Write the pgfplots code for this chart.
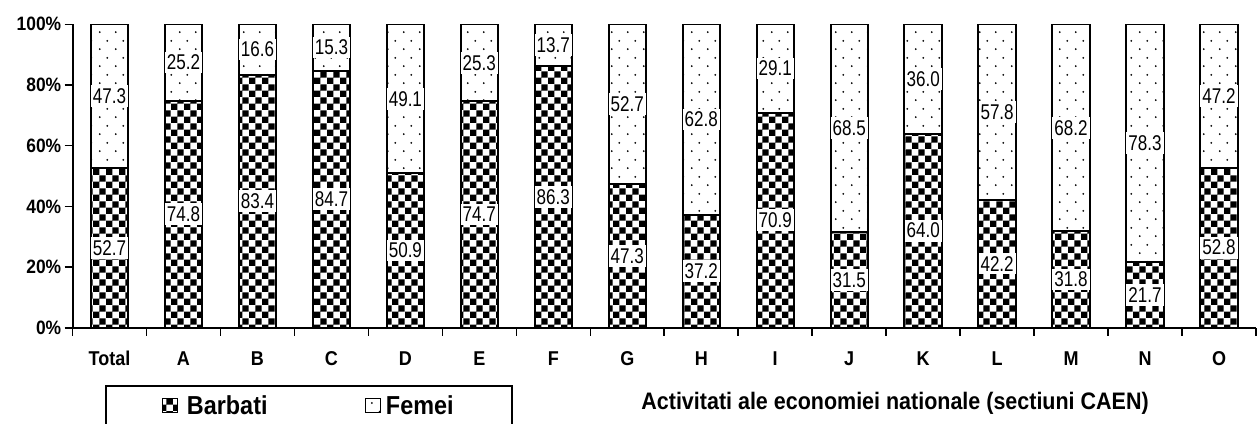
\documentclass[border=0pt]{standalone}
\usepackage{pgfplots}
\pgfplotsset{compat=1.18}
\usepackage{pgfplotstable}
\usepackage{fontspec}
\setmainfont{Liberation Sans}[FakeStretch=0.9]
\newfontfamily\narrowfont{Liberation Sans}[FakeStretch=0.8]
\usetikzlibrary{patterns}

\pgfdeclarepatternformonly{mychecker}{\pgfqpoint{0pt}{0pt}}{\pgfqpoint{10pt}{10pt}}{\pgfqpoint{10pt}{10pt}}{%
  \pgfpathrectangle{\pgfqpoint{0pt}{0pt}}{\pgfqpoint{5pt}{5pt}}%
  \pgfpathrectangle{\pgfqpoint{5pt}{5pt}}{\pgfqpoint{5pt}{5pt}}%
  \pgfusepath{fill}}
\pgfdeclarepatternformonly{mydots}{\pgfqpoint{0pt}{0pt}}{\pgfqpoint{12pt}{12.5pt}}{\pgfqpoint{12pt}{12.5pt}}{%
  \pgfpathcircle{\pgfqpoint{3pt}{3pt}}{0.8pt}%
  \pgfpathcircle{\pgfqpoint{9pt}{9.25pt}}{0.8pt}%
  \pgfusepath{fill}}

\pgfplotstableread{
x b f
0 52.7 47.3
1 74.8 25.2
2 83.4 16.6
3 84.7 15.3
4 50.9 49.1
5 74.7 25.3
6 86.3 13.7
7 47.3 52.7
8 37.2 62.8
9 70.9 29.1
10 31.5 68.5
11 64.0 36.0
12 42.2 57.8
13 31.8 68.2
14 21.7 78.3
15 52.8 47.2
}\data

\begin{document}
\begin{tikzpicture}
\begin{axis}[
  name=ax, at={(0,0)}, anchor=south west,
  scale only axis, width=887.6pt, height=227.55pt,
  ybar stacked, bar width=28pt,
  xmin=-0.5, xmax=15.5, ymin=0, ymax=100,
  axis lines=left, axis line style={-, line width=1.5pt},
  xtick={-0.5,0.5,...,15.5}, x tick label as interval,
  xticklabels={Total,A,B,C,D,E,F,G,H,I,J,K,L,M,N,O},
  ytick={0,20,...,100}, yticklabel={\pgfmathprintnumber{\tick}\%},
  tick align=outside, major tick length=6pt, tick style={line width=1.2pt, black},
  /pgf/number format/assume math mode=true,
  yticklabel style={font=\bfseries\fontsize{14.5}{16}\selectfont, xshift=1pt},
  xticklabel style={font=\bfseries\fontsize{15}{16}\selectfont, yshift=-8pt, text height=10.5pt, text depth=0pt},
  nodes near coords={\pgfplotspointmeta},
  point meta=explicit symbolic,
  every node near coord/.append style={font=\narrowfont\fontsize{16}{17}\selectfont, fill=white, inner xsep=1.5pt, inner ysep=2.5pt, anchor=center},
  xlabel={Activitati ale economiei nationale (sectiuni CAEN)},
  xlabel style={at={(axis description cs:0.695,0)}, anchor=center, yshift=-56.5pt, font=\bfseries\fontsize{17.9}{20}\selectfont},
  legend image code/.code={\draw[#1, line width=0.8pt] (0pt,-5.5pt) rectangle (11pt,5.5pt);},
  legend columns=2,
  legend style={at={(axis description cs:0.0275,-0.189)}, anchor=north west, draw=black, line width=1.2pt,
    font=\bfseries\fontsize{19.5}{22}\selectfont, inner xsep=42pt, inner ysep=5pt,
    /tikz/every even column/.append style={column sep=71pt},
    /tikz/every odd column/.append style={column sep=2pt}},
]
\addplot[draw=black, line width=1.5pt, pattern=mychecker]
  table[x=x, y=b, meta=b] {\data};
\addlegendentry{\hspace{3pt}Barbati}
\addplot[draw=black, line width=1.5pt, pattern=mydots]
  table[x=x, y=f, meta=f] {\data};
\addlegendentry{Femei}
\end{axis}
\pgfresetboundingbox
\path (ax.south west) ++(-54.4pt,-72.2pt) rectangle ++(942.75pt,318pt);
\end{tikzpicture}
\end{document}
